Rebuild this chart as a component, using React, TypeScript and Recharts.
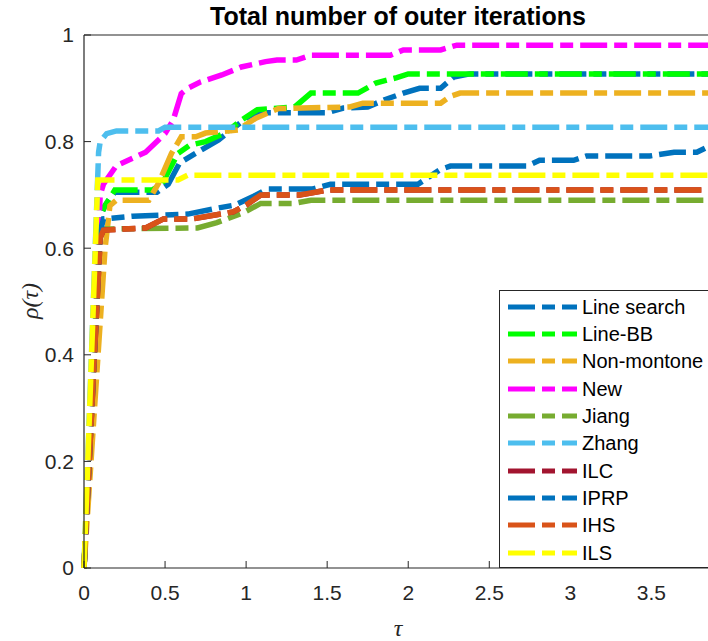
import React from 'react';
import { LineChart, Line, XAxis, YAxis, Legend } from 'recharts';

// tau values (x) and rho values (y), one pair of arrays per solver
const lineSearchTau = [0, 0.1, 0.13, 0.19, 0.45, 0.52, 0.59, 0.7, 0.83, 1.0, 1.06, 1.5, 1.6, 1.75, 1.85, 1.97, 2.07, 2.2, 2.28, 2.38, 3.88];
const lineSearchRho = [0, 0.66, 0.68, 0.705, 0.705, 0.72, 0.76, 0.78, 0.803, 0.844, 0.854, 0.854, 0.863, 0.865, 0.878, 0.891, 0.9, 0.9, 0.921, 0.927, 0.927];

const lineBBTau = [0, 0.1, 0.13, 0.19, 0.42, 0.48, 0.58, 0.65, 0.75, 0.87, 0.97, 1.07, 1.3, 1.4, 1.69, 1.8, 1.93, 2.0, 3.88];
const lineBBRho = [0, 0.66, 0.68, 0.709, 0.709, 0.72, 0.778, 0.793, 0.8, 0.816, 0.84, 0.86, 0.865, 0.891, 0.891, 0.91, 0.92, 0.927, 0.927];

const nonMonotoneTau = [0, 0.13, 0.16, 0.2, 0.4, 0.46, 0.54, 0.6, 0.69, 0.75, 0.95, 1.06, 1.2, 1.64, 1.72, 2.2, 2.26, 2.32, 3.88];
const nonMonotoneRho = [0, 0.6, 0.68, 0.69, 0.69, 0.722, 0.778, 0.809, 0.809, 0.816, 0.822, 0.844, 0.862, 0.865, 0.872, 0.872, 0.885, 0.891, 0.891];

const newTau = [0, 0.1, 0.12, 0.2, 0.38, 0.5, 0.55, 0.6, 0.64, 0.72, 0.85, 0.97, 1.12, 1.19, 1.31, 1.4, 1.89, 1.97, 2.2, 2.3, 3.88];
const newRho = [0, 0.7, 0.72, 0.755, 0.78, 0.815, 0.84, 0.89, 0.9, 0.912, 0.925, 0.94, 0.95, 0.953, 0.953, 0.962, 0.962, 0.972, 0.972, 0.981, 0.981];

const jiangTau = [0, 0.1, 0.13, 0.7, 0.82, 0.98, 1.09, 1.29, 1.4, 3.88];
const jiangRho = [0, 0.628, 0.636, 0.638, 0.648, 0.666, 0.684, 0.684, 0.69, 0.69];

const zhangTau = [0, 0.09, 0.1, 0.14, 0.2, 0.46, 0.5, 3.88];
const zhangRho = [0, 0.78, 0.8, 0.815, 0.82, 0.82, 0.827, 0.827];

const ilcTau = [0, 0.1, 0.12, 0.38, 0.49, 0.67, 0.92, 1.0, 1.09, 1.33, 1.5, 3.88];
const ilcRho = [0, 0.62, 0.634, 0.638, 0.655, 0.655, 0.668, 0.681, 0.7, 0.7, 0.709, 0.709];

const iprpTau = [0, 0.1, 0.12, 0.3, 0.64, 0.82, 0.93, 1.05, 1.13, 1.41, 1.52, 2.06, 2.2, 2.26, 2.73, 2.81, 3.02, 3.1, 3.49, 3.64, 3.78, 3.88];
const iprpRho = [0, 0.63, 0.655, 0.66, 0.664, 0.675, 0.681, 0.698, 0.711, 0.711, 0.72, 0.72, 0.748, 0.754, 0.754, 0.765, 0.765, 0.773, 0.773, 0.78, 0.78, 0.795];

const ihsTau = [0, 0.1, 0.12, 0.38, 0.49, 0.67, 0.92, 1.0, 1.09, 1.33, 1.5, 3.88];
const ihsRho = [0, 0.62, 0.634, 0.638, 0.655, 0.655, 0.668, 0.681, 0.7, 0.7, 0.709, 0.709];

const ilsTau = [0, 0.085, 0.58, 0.64, 3.88];
const ilsRho = [0, 0.728, 0.728, 0.737, 0.737];

const xTicks = [0, 0.5, 1, 1.5, 2, 2.5, 3, 3.5];
const yTicks = [0, 0.2, 0.4, 0.6, 0.8, 1];

const toPoints = (tau: number[], rho: number[]) => tau.map((t, i) => ({ tau: t, rho: rho[i] }));

const series = [
  { name: 'Line search', color: '#0072BD', data: toPoints(lineSearchTau, lineSearchRho) },
  { name: 'Line-BB', color: '#00FF00', data: toPoints(lineBBTau, lineBBRho) },
  { name: 'Non-montone', color: '#EDB120', data: toPoints(nonMonotoneTau, nonMonotoneRho) },
  { name: 'New', color: '#FF00FF', data: toPoints(newTau, newRho) },
  { name: 'Jiang', color: '#77AC30', data: toPoints(jiangTau, jiangRho) },
  { name: 'Zhang', color: '#4DBEEE', data: toPoints(zhangTau, zhangRho) },
  { name: 'ILC', color: '#A2142F', data: toPoints(ilcTau, ilcRho) },
  { name: 'IPRP', color: '#0072BD', data: toPoints(iprpTau, iprpRho) },
  { name: 'IHS', color: '#D95319', data: toPoints(ihsTau, ihsRho) },
  { name: 'ILS', color: '#FFFF00', data: toPoints(ilsTau, ilsRho) },
];

const DASH = '27 7 13 7';
const AXIS = '#262626';
const FONT = '"Liberation Sans", Arial, Helvetica, sans-serif';

function LegendBox() {
  return (
    <div
      style={{
        boxSizing: 'border-box',
        width: 216,
        height: 278,
        border: `1px solid ${AXIS}`,
        background: '#fff',
        paddingTop: 2,
        fontFamily: FONT,
        fontSize: 20,
        color: '#000',
      }}
    >
      {series.map((s) => (
        <div key={s.name} style={{ display: 'flex', alignItems: 'center', height: 27.33 }}>
          <svg width={82} height={10} style={{ flex: 'none' }}>
            <line x1={8} y1={5} x2={77} y2={5} stroke={s.color} strokeWidth={5} strokeDasharray={DASH} />
          </svg>
          <span style={{ whiteSpace: 'nowrap', lineHeight: '20px' }}>{s.name}</span>
        </div>
      ))}
    </div>
  );
}

export default function App() {
  return (
    <div style={{ position: 'absolute', left: 0, top: 0, width: 708, height: 641, overflow: 'hidden', background: '#fff' }}>
      <LineChart width={713} height={641} margin={{ top: 5, right: 0, bottom: 0, left: 0 }}>
        <XAxis
          xAxisId="bottom"
          dataKey="tau"
          type="number"
          domain={[0, 3.88]}
          ticks={xTicks}
          allowDuplicatedCategory={false}
          height={73}
          tickSize={-7}
          tickMargin={24}
          axisLine={{ stroke: AXIS, strokeWidth: 1.2 }}
          tickLine={{ stroke: AXIS }}
          tick={{ fill: AXIS, fontSize: 21, fontFamily: FONT }}
        />
        <XAxis
          xAxisId="top"
          orientation="top"
          type="number"
          domain={[0, 3.88]}
          ticks={xTicks}
          height={30}
          tickSize={-7}
          tick={false}
          axisLine={{ stroke: AXIS, strokeWidth: 1.2 }}
          tickLine={{ stroke: AXIS }}
        />
        <YAxis
          yAxisId="left"
          type="number"
          domain={[0, 1]}
          ticks={yTicks}
          width={84}
          tickSize={-7}
          tickMargin={17}
          axisLine={{ stroke: AXIS, strokeWidth: 1.2 }}
          tickLine={{ stroke: AXIS }}
          tick={{ fill: AXIS, fontSize: 21, fontFamily: FONT }}
        />
        {series.map((s) => (
          <Line
            key={s.name}
            xAxisId="bottom"
            yAxisId="left"
            data={s.data}
            dataKey="rho"
            name={s.name}
            type="linear"
            stroke={s.color}
            strokeWidth={5.5}
            strokeDasharray={DASH}
            dot={false}
            activeDot={false}
            isAnimationActive={false}
          />
        ))}
        <Legend
          layout="vertical"
          align="center"
          verticalAlign="middle"
          wrapperStyle={{ left: 499, top: 290, width: 216, height: 278 }}
          content={() => <LegendBox />}
        />
      </LineChart>
      <svg width={708} height={641} style={{ position: 'absolute', left: 0, top: 0, pointerEvents: 'none' }}>
        <text x={398} y={25} textAnchor="middle" fontFamily={FONT} fontWeight="bold" fontSize={25} fill="#000">
          Total number of outer iterations
        </text>
        <text
          x={30}
          y={301}
          transform="rotate(-90 30 301)"
          textAnchor="middle"
          dominantBaseline="central"
          fontFamily='"Liberation Serif", "DejaVu Serif", serif'
          fontStyle="italic"
          fontSize={24}
          fill={AXIS}
        >
          ρ(τ)
        </text>
        <text
          x={398}
          y={628}
          textAnchor="middle"
          dominantBaseline="central"
          fontFamily='"Liberation Serif", "DejaVu Serif", serif'
          fontStyle="italic"
          fontSize={24}
          fill={AXIS}
        >
          τ
        </text>
      </svg>
    </div>
  );
}
